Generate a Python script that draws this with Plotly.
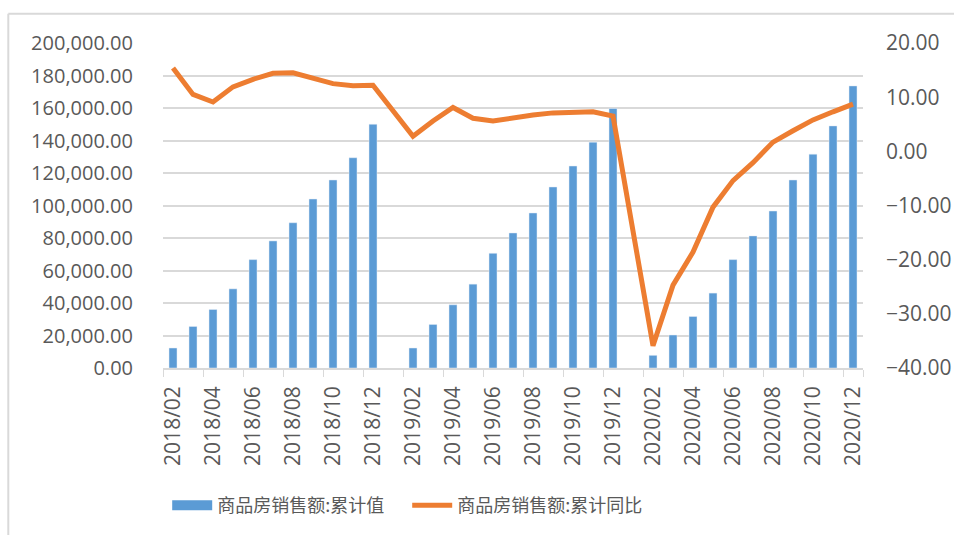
import plotly.graph_objects as go

months = (["2018/%02d" % m for m in range(2, 13)]
          + ["2019/%02d" % m for m in range(1, 13)]
          + ["2020/%02d" % m for m in range(1, 13)])

sales_cum = [12300, 25550, 36000, 48700, 66700, 78200, 89400, 104000, 115700, 129400, 150000,
             None, 12300, 26800, 38900, 51600, 70600, 83100, 95400, 111400, 124300, 139000, 159700,
             None, 7800, 20300, 31700, 46100, 66700, 81300, 96600, 115700, 131600, 149000, 173600]

sales_yoy = [15.4, 10.5, 9.1, 11.9, 13.3, 14.4, 14.5, 13.4, 12.5, 12.1, 12.2,
             None, 2.8, 5.6, 8.1, 6.1, 5.6, 6.2, 6.7, 7.1, 7.3, 7.3, 6.5,
             None, -35.9, -24.7, -18.6, -10.3, -5.4, -2.1, 1.7, 3.8, 5.8, 7.3, 8.7]

tick_labels = [m for m in months if int(m[-2:]) % 2 == 0]

name_bar = "商品房销售额:累计值"
name_line = "商品房销售额:累计同比"

BLUE = "#5B9BD5"
ORANGE = "#ED7D31"
TXT = "#595959"
GRID = "#D9D9D9"
FONT = "Open Sans"

fig = go.Figure()
fig.add_trace(go.Bar(x=months, y=sales_cum, name=name_bar, marker_color=BLUE,
                     showlegend=False, yaxis="y"))
fig.add_trace(go.Scatter(x=[None], y=[None], mode="lines", name=name_bar,
                         line=dict(color=BLUE, width=14), yaxis="y"))
fig.add_trace(go.Scatter(x=months, y=sales_yoy, name=name_line, mode="lines",
                         connectgaps=True, line=dict(color=ORANGE, width=5), yaxis="y2"))

fig.update_layout(
    width=954, height=535,
    margin=dict(l=163, r=91, t=43, b=167, autoexpand=False),
    paper_bgcolor="white", plot_bgcolor="white",
    bargap=0.6,
    font=dict(family=FONT, color=TXT, size=20),
    xaxis=dict(type="category", categoryorder="array", categoryarray=months,
               tickmode="array", tickvals=tick_labels, tickangle=-90,
               tickson="boundaries", ticks="outside", ticklen=7, tickcolor=GRID,
               showline=True, linecolor=GRID, linewidth=1.5, showgrid=False,
               automargin=False,
               tickfont=dict(size=21, color=TXT), ticklabelstandoff=8),
    yaxis=dict(range=[0, 200000], dtick=20000, tickformat=",.2f",
               showgrid=True, gridcolor=GRID, gridwidth=1.5, zeroline=False,
               automargin=False,
               ticks="", ticklabelstandoff=29, tickfont=dict(size=20, color=TXT)),
    yaxis2=dict(range=[-40, 20], dtick=10, tickformat=".2f", overlaying="y",
                side="right", showgrid=False, zeroline=False, ticks="",
                automargin=False,
                ticklabelstandoff=22, tickfont=dict(size=21, color=TXT)),
    legend=dict(orientation="h", x=0.006, xanchor="left", y=-0.423, yanchor="middle",
                font=dict(size=18, color=TXT, family="Noto Sans CJK SC"),
                itemwidth=40, entrywidth=185, traceorder="normal"),
    shapes=[
        dict(type="line", xref="paper", yref="paper", x0=-0.221, x1=1.2,
             y0=1.0903, y1=1.0903, line=dict(color=GRID, width=2)),
        dict(type="line", xref="paper", yref="paper", x0=-0.221, x1=-0.221,
             y0=1.0903, y1=-0.6, line=dict(color=GRID, width=2)),
    ],
)

fig.write_html("out.html", config={"displayModeBar": False},
               post_script="document.body.style.margin='0';document.body.style.overflow='hidden';")
